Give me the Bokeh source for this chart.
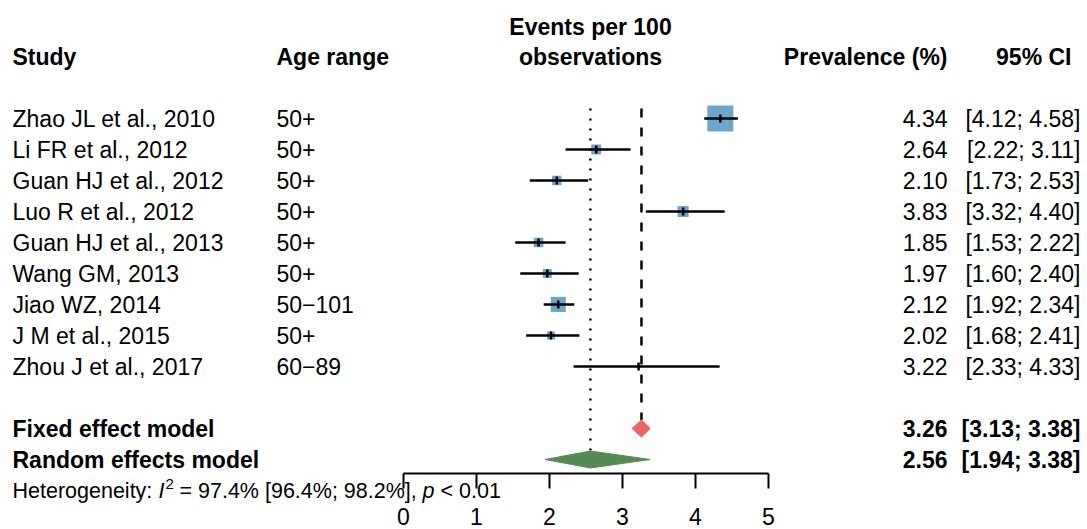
from bokeh.plotting import figure
from bokeh.models import ColumnDataSource, LinearAxis, FixedTicker, Range1d
from bokeh.core.properties import value
from bokeh.embed import file_html
from bokeh.resources import INLINE
import math

# ---------------- data ----------------
studies = ["Zhao JL et al., 2010", "Li FR et al., 2012", "Guan HJ et al., 2012",
           "Luo R et al., 2012", "Guan HJ et al., 2013", "Wang GM, 2013",
           "Jiao WZ, 2014", "J M et al., 2015", "Zhou J et al., 2017"]
age_ranges = ["50+", "50+", "50+", "50+", "50+", "50+", "50\u2212101", "50+", "60\u221289"]
prevalence = [4.34, 2.64, 2.10, 3.83, 1.85, 1.97, 2.12, 2.02, 3.22]
ci_lower = [4.12, 2.22, 1.73, 3.32, 1.53, 1.60, 1.92, 1.68, 2.33]
ci_upper = [4.58, 3.11, 2.53, 4.40, 2.22, 2.40, 2.34, 2.41, 4.33]
weights = [46.3, 6.8, 6.2, 8.3, 6.4, 5.5, 15.4, 4.4, 0.8]   # % weight (square area)

model_names = ["Fixed effect model", "Random effects model"]
model_est = [3.26, 2.56]
model_lower = [3.13, 1.94]
model_upper = [3.38, 3.38]
model_colors = ["#EE6363", "#548B54"]

x_ticks = [0, 1, 2, 3, 4, 5]
headers = {"study": "Study", "age": "Age range", "ev1": "Events per 100",
           "ev2": "observations", "prev": "Prevalence (%)", "ci": "95% CI"}
heterogeneity = ["Heterogeneity:", "I", "2", "= 97.4% [96.4%; 98.2%],", "p", "< 0.01"]

# ---------------- layout ----------------
FONT = "Liberation Sans"
FS = "23px"
W, H = 1087, 529
PX0 = 403     # canvas pixel of value 0
PPU = 73      # pixels per unit
AXIS_Y = 473  # canvas pixel row of the axis line


def X(px):
    return (px - PX0) / PPU


def Y(row):
    return 118 + 31 * row


p = figure(frame_width=W, frame_height=H,
           x_range=Range1d(-PX0 / PPU, (W - PX0) / PPU),
           y_range=Range1d(H, 0),
           x_axis_type=None, y_axis_type=None,
           output_backend="svg", toolbar_location=None,
           min_border=0, outline_line_color=None)
p.background_fill_color = "white"
p.border_fill_color = "white"

ax = LinearAxis(ticker=FixedTicker(ticks=x_ticks), bounds=(0, 5),
                fixed_location=AXIS_Y,
                major_tick_out=15, major_tick_in=0,
                minor_tick_line_color=None,
                axis_line_width=2, major_tick_line_width=2,
                axis_line_color="black", major_tick_line_color="black",
                major_label_text_font=FONT, major_label_text_font_size=FS,
                major_label_text_color="black", major_label_standoff=19)
p.add_layout(ax, "below")

rows = [Y(i) for i in range(len(studies))]
wmax = max(weights)
sizes = [26 * math.sqrt(w / wmax) for w in weights]

src = ColumnDataSource(dict(
    y=rows, est=prevalence, lo=ci_lower, hi=ci_upper, size=sizes,
    t0=[r - 4 for r in rows], t1=[r + 4 for r in rows],
    study=studies, age=age_ranges,
    prev_txt=["%.2f" % v for v in prevalence],
    ci_txt=["[%.2f; %.2f]" % (a, b) for a, b in zip(ci_lower, ci_upper)],
))

# reference lines
y_top = Y(0) - 10
p.segment(x0=[model_est[0]], y0=[y_top], x1=[model_est[0]], y1=[Y(10) - 8.5],
          line_color="black", line_width=2.5, line_dash="9 10")
p.segment(x0=[model_est[1]], y0=[y_top], x1=[model_est[1]], y1=[Y(11) - 8.5],
          line_color="black", line_width=2.5, line_dash="2 8")

# study squares, CIs, estimate ticks
p.scatter(x="est", y="y", size="size", marker="square", source=src,
          fill_color="#6CA6CD", line_color=None)
p.segment(x0="lo", y0="y", x1="hi", y1="y", source=src, line_color="black", line_width=2.5)
p.segment(x0="est", y0="t0", x1="est", y1="t1", source=src, line_color="black", line_width=2.5)

# summary diamonds
for k in range(2):
    yc = Y(10 + k)
    p.patch(x=[model_lower[k], model_est[k], model_upper[k], model_est[k]],
            y=[yc, yc - 8.5, yc, yc + 8.5],
            fill_color=model_colors[k], line_color=model_colors[k], line_width=1)

# text columns
common = dict(text_font=value(FONT), text_font_size=FS, text_color="black",
              text_baseline="middle")
p.text(x=X(12), y="y", text="study", source=src, text_align="left", **common)
p.text(x=X(276), y="y", text="age", source=src, text_align="left", **common)
p.text(x=X(947), y="y", text="prev_txt", source=src, text_align="right", **common)
p.text(x=X(1080), y="y", text="ci_txt", source=src, text_align="right", **common)

bold = dict(common, text_font_style="bold")
p.text(x=[X(12)], y=[Y(-2)], text=[headers["study"]], text_align="left", **bold)
p.text(x=[X(276)], y=[Y(-2)], text=[headers["age"]], text_align="left", **bold)
p.text(x=[X(590)], y=[Y(-2.95)], text=[headers["ev1"]], text_align="center", **bold)
p.text(x=[X(590)], y=[Y(-2)], text=[headers["ev2"]], text_align="center", **bold)
p.text(x=[X(947)], y=[Y(-2)], text=[headers["prev"]], text_align="right", **bold)
p.text(x=[X(1071)], y=[Y(-2)], text=[headers["ci"]], text_align="right", **bold)

my = [Y(10), Y(11)]
p.text(x=X(12), y=my, text=model_names, text_align="left", **bold)
p.text(x=X(947), y=my, text=["%.2f" % v for v in model_est], text_align="right", **bold)
p.text(x=X(1080), y=my, text=["[%.2f; %.2f]" % (a, b) for a, b in zip(model_lower, model_upper)],
       text_align="right", **bold)

# heterogeneity line (pieces for italic / superscript)
hy = Y(12)
het_x = [12, 158, 165, 179, 422, 440]
het_style = ["normal", "italic", "normal", "normal", "italic", "normal"]
het_size = ["21.5px", "21.5px", "15px", "21.5px", "21.5px", "21.5px"]
het_dy = [0, 0, -7, 0, 0, 0]
for txt, px, style, fs, dy in zip(heterogeneity, het_x, het_style, het_size, het_dy):
    p.text(x=[X(px)], y=[hy + dy], text=[txt], text_font=value(FONT),
           text_font_size=fs, text_font_style=style, text_color="black",
           text_baseline="middle", text_align="left")

open("out.html", "w").write(file_html(p, INLINE))
